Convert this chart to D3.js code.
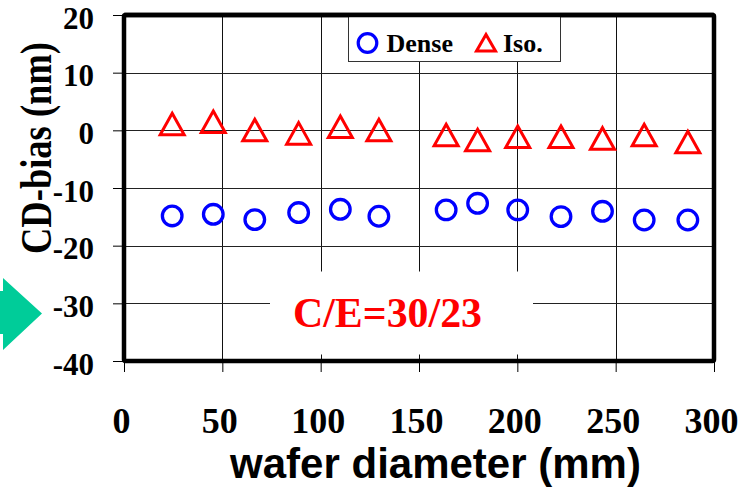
<!DOCTYPE html>
<html>
<head>
<meta charset="utf-8">
<script src="https://cdn.jsdelivr.net/npm/d3@7"></script>
<style>
	body { margin: 0; background: #fff; }
	svg { display: block; }
</style>
</head>
<body>
<svg></svg>
<script>
// wafer position (mm) and CD-bias (nm)
const positions = [24.5, 45.4, 66.5, 88.8, 110, 129.6, 163.8, 179.8, 200.2, 222.2, 243.3, 264.5, 286.7];
const dense = [-14.85, -14.56, -15.48, -14.26, -13.69, -14.9, -13.8, -12.65, -13.8, -14.96, -14.04, -15.55, -15.55];
const iso = [1.21, 1.61, 0.17, -0.4, 0.75, 0.17, -0.69, -1.56, -0.99, -0.99, -1.27, -0.69, -1.91];

const xTicks = [0, 50, 100, 150, 200, 250, 300];
const yTicks = [20, 10, 0, -10, -20, -30, -40];
const seriesNames = ['Dense', 'Iso.'];
const note = 'C/E=30/23';

const serif = "'Liberation Serif', 'Times New Roman', serif";
const sans = "'Liberation Sans', Arial, sans-serif";

const width = 752;
const height = 489;
const margin = { top: 15, right: 38, bottom: 128, left: 124 };
const innerW = width - margin.left - margin.right;
const innerH = height - margin.top - margin.bottom;

const svg = d3.select('svg')
	.attr('width', width)
	.attr('height', height);

const x = d3.scaleLinear().domain([0, 300]).range([0, innerW]);
const y = d3.scaleLinear().domain([-40, 20]).range([innerH, 0]);

const g = svg.append('g')
	.attr('transform', `translate(${margin.left},${margin.top})`);

// grid
g.selectAll('line.vgrid')
	.data(xTicks.slice(1, -1))
	.enter()
	.append('line')
	.attr('class', 'vgrid')
	.attr('x1', d => Math.round(x(d)) + 0.5)
	.attr('x2', d => Math.round(x(d)) + 0.5)
	.attr('y1', 0)
	.attr('y2', innerH)
	.attr('stroke', '#111')
	.attr('stroke-width', 1);

g.selectAll('line.hgrid')
	.data(yTicks.slice(1, -1))
	.enter()
	.append('line')
	.attr('class', 'hgrid')
	.attr('x1', 0)
	.attr('x2', innerW)
	.attr('y1', d => Math.round(y(d)) + 0.5)
	.attr('y2', d => Math.round(y(d)) + 0.5)
	.attr('stroke', '#222')
	.attr('stroke-width', 1);

// axes (ticks + labels only, frame drawn separately)
const yAxis = g.append('g')
	.call(d3.axisLeft(y).tickValues(yTicks).tickSize(11).tickPadding(19).tickFormat(d => String(d)));
yAxis.select('.domain').remove();
yAxis.selectAll('line').attr('stroke', '#000').attr('stroke-width', 1);
yAxis.selectAll('text')
	.style('font-family', serif)
	.style('font-weight', 'bold')
	.style('font-size', '31px')
	.attr('fill', '#000')
	.attr('dy', '0.42em');

const xAxis = g.append('g')
	.attr('transform', `translate(0,${innerH})`)
	.call(d3.axisBottom(x).tickValues(xTicks).tickSize(11).tickFormat(d => String(d)));
xAxis.select('.domain').remove();
xAxis.selectAll('line').attr('stroke', '#000').attr('stroke-width', 1);
xAxis.selectAll('text')
	.style('font-family', serif)
	.style('font-weight', 'bold')
	.style('font-size', '36px')
	.attr('fill', '#000')
	.attr('dy', null)
	.attr('y', 72)
	.attr('x', -3);

// annotation box hides the grid behind it
g.append('rect')
	.attr('x', 270 - margin.left)
	.attr('y', 271.5 - margin.top)
	.attr('width', 263)
	.attr('height', 83)
	.attr('fill', '#fff');

g.append('text')
	.style('font-family', serif)
	.style('font-weight', 'bold')
	.style('font-size', '43px')
	.attr('x', 293 - margin.left)
	.attr('y', 327 - margin.top)
	.attr('textLength', 189)
	.attr('lengthAdjust', 'spacingAndGlyphs')
	.attr('fill', '#ff0000')
	.text(note);

// frame
g.append('rect')
	.attr('x', 0)
	.attr('y', 0)
	.attr('width', innerW)
	.attr('height', innerH)
	.attr('rx', 1.5)
	.attr('fill', 'none')
	.attr('stroke', '#000')
	.attr('stroke-width', 4.5);

// legend
const legend = g.append('g')
	.attr('transform', `translate(${348.5 - margin.left},0)`);
legend.append('rect')
	.attr('x', 0)
	.attr('y', 0)
	.attr('width', 212)
	.attr('height', 46.5)
	.attr('fill', '#fff')
	.attr('stroke', '#333')
	.attr('stroke-width', 1);
g.append('line')
	.attr('x1', 0).attr('x2', innerW)
	.attr('y1', 0).attr('y2', 0)
	.attr('stroke', '#000')
	.attr('stroke-width', 4.5);
legend.append('circle')
	.attr('cx', 19)
	.attr('cy', 28)
	.attr('r', 9.3)
	.attr('fill', 'none')
	.attr('stroke', '#0000ff')
	.attr('stroke-width', 3.2);
legend.append('text')
	.style('font-family', serif)
	.style('font-weight', 'bold')
	.style('font-size', '26px')
	.attr('x', 38)
	.attr('y', 37)
	.text(seriesNames[0]);
legend.append('path')
	.attr('d', 'M0,-7.5 L9.5,9 L-9.5,9 Z')
	.attr('transform', 'translate(137.5,27)')
	.attr('fill', 'none')
	.attr('stroke', '#ff0000')
	.attr('stroke-width', 3);
legend.append('text')
	.style('font-family', serif)
	.style('font-weight', 'bold')
	.style('font-size', '26px')
	.attr('x', 154.5)
	.attr('y', 37)
	.text(seriesNames[1]);

// markers
g.selectAll('circle.dense')
	.data(positions.map((p, i) => [p, dense[i]]))
	.enter()
	.append('circle')
	.attr('class', 'dense')
	.attr('cx', d => x(d[0]))
	.attr('cy', d => y(d[1]))
	.attr('r', 9.8)
	.attr('fill', 'none')
	.attr('stroke', '#0000ff')
	.attr('stroke-width', 3.3);

g.selectAll('path.iso')
	.data(positions.map((p, i) => [p, iso[i]]))
	.enter()
	.append('path')
	.attr('class', 'iso')
	.attr('d', 'M0,-10 L12,11.5 L-12,11.5 Z')
	.attr('transform', d => `translate(${x(d[0])},${y(d[1])})`)
	.attr('fill', 'none')
	.attr('stroke', '#ff0000')
	.attr('stroke-width', 3);

// axis titles
svg.append('text')
	.style('font-family', sans)
	.style('font-weight', 'bold')
	.style('font-size', '42px')
	.attr('x', 435.5)
	.attr('y', 478)
	.attr('text-anchor', 'middle')
	.text('wafer diameter (mm)');

svg.append('text')
	.style('font-family', serif)
	.style('font-weight', 'bold')
	.style('font-size', '44px')
	.attr('transform', 'translate(51,148) rotate(-90)')
	.attr('text-anchor', 'middle')
	.attr('textLength', 212)
	.attr('lengthAdjust', 'spacingAndGlyphs')
	.text('CD-bias (nm)');

// green arrow on the left
svg.append('path')
	.attr('d', 'M-10,291 L3,291 L3,278 L42,313.5 L3,350 L3,334 L-10,334 Z')
	.attr('fill', '#00cc99');
</script>
</body>
</html>
